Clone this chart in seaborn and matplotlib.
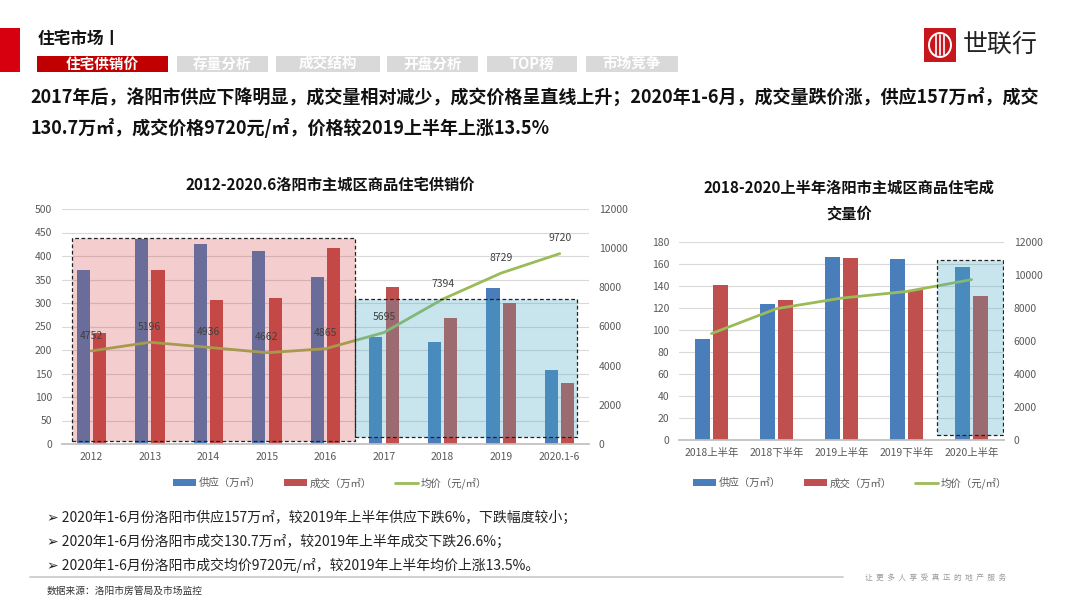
import matplotlib
matplotlib.use("Agg")
import matplotlib.pyplot as plt
from matplotlib.patches import Rectangle, Patch, Ellipse
from matplotlib.lines import Line2D
import numpy as np
import pandas as pd
import seaborn as sns

W, H = 1080, 608

# left chart: yearly supply / deal / price
years = ["2012", "2013", "2014", "2015", "2016", "2017", "2018", "2019", "2020.1-6"]
supply = [370, 436, 425, 411, 356, 228, 216, 332, 157]
deal = [236, 370, 306, 310, 417, 334, 268, 301, 130.7]
price = [4752, 5196, 4936, 4662, 4865, 5695, 7394, 8729, 9720]

# right chart: half-year figures
halves = ["2018上半年", "2018下半年", "2019上半年", "2019下半年", "2020上半年"]
half_supply = [91.5, 124, 166.5, 164.5, 157]
half_deal = [141, 127, 165, 136, 130.7]
half_price = [6450, 7960, 8600, 9000, 9720]

series = ["供应（万㎡）", "成交（万㎡）", "均价（元/㎡）"]
tabs = ["住宅供销价", "存量分析", "成交结构", "开盘分析", "TOP榜", "市场竞争"]
headline = [
    "2017年后，洛阳市供应下降明显，成交量相对减少，成交价格呈直线上升；2020年1-6月，成交量跌价涨，供应157万㎡，成交",
    "130.7万㎡，成交价格9720元/㎡，价格较2019上半年上涨13.5%",
]
bullets = [
    "2020年1-6月份洛阳市供应157万㎡，较2019年上半年供应下跌6%，下跌幅度较小；",
    "2020年1-6月份洛阳市成交130.7万㎡，较2019年上半年成交下跌26.6%；",
    "2020年1-6月份洛阳市成交均价9720元/㎡，较2019年上半年均价上涨13.5%。",
]

BLUE = "#4a7ebb"
RED = "#c0504d"
GREEN = "#9bbb59"
TICK = "#595959"

sns.set_theme(style="white")
plt.rcParams["font.family"] = ["Noto Sans CJK SC", "DejaVu Sans"]


def fx(px):
    return px / W


def fy(py):
    return 1 - py / H


def combo(ax, cats, sup, dl, pr, ymax, ystep, labels):
    df = pd.DataFrame({
        "cat": cats * 2,
        "value": list(sup) + list(dl),
        "series": [series[0]] * len(cats) + [series[1]] * len(cats),
    })
    sns.barplot(data=df, x="cat", y="value", hue="series", palette=[BLUE, RED],
                width=0.56, gap=0.2, saturation=1, linewidth=0, legend=False, ax=ax)
    ax.set_xlim(-0.5, len(cats) - 0.5)
    ax.set_ylim(0, ymax)
    ax.set_yticks(np.arange(0, ymax + 1, ystep))
    ax.yaxis.grid(True, color="#d9d9d9", linewidth=0.8)
    ax.set_axisbelow(True)
    ax.set_xlabel("")
    ax.set_ylabel("")
    for s in ["top", "left", "right"]:
        ax.spines[s].set_visible(False)
    ax.spines["bottom"].set_color("#bfbfbf")
    ax.tick_params(axis="both", length=0, labelsize=7.5, labelcolor=TICK)
    ax.tick_params(axis="x", pad=6)
    ax.tick_params(axis="y", pad=7)

    ax2 = ax.twinx()
    sns.lineplot(x=np.arange(len(cats)), y=pr, color=GREEN, linewidth=2, ax=ax2)
    ax2.set_ylim(0, 12000)
    ax2.set_yticks(np.arange(0, 12001, 2000))
    ax2.grid(False)
    for s in ax2.spines.values():
        s.set_visible(False)
    ax2.tick_params(axis="y", length=0, labelsize=7.5, labelcolor=TICK, pad=7)
    if labels:
        for i, p in enumerate(pr):
            ax2.annotate(str(p), (i, p), xytext=(0, 11), textcoords="offset points",
                         ha="center", va="center", fontsize=7.5, color="#404040", zorder=10)
    return ax2


def zone(ax_top, ax_data, x0, x1, y0, y1, rgba):
    ax_top.add_patch(Rectangle((x0, y0), x1 - x0, y1 - y0, transform=ax_data.transData,
                               facecolor=rgba, edgecolor="#222222", linewidth=0.9,
                               linestyle=(0, (3, 2)), zorder=5))


fig = plt.figure(figsize=(W / 100, H / 100), dpi=100)

# header
fig.patches.append(Rectangle((0, fy(72)), fx(20), 44 / H, transform=fig.transFigure,
                             facecolor="#d7000f", edgecolor="none"))
fig.text(fx(38), fy(39), "住宅市场丨", fontsize=12, fontweight="bold", va="center", color="#111111")
tab_x = [(37, 168), (177, 268), (276, 380), (387, 478), (487, 577), (586, 678)]
for i, (name, (a, b)) in enumerate(zip(tabs, tab_x)):
    fig.patches.append(Rectangle((fx(a), fy(72)), fx(b - a), 16 / H, transform=fig.transFigure,
                                 facecolor="#c00000" if i == 0 else "#d9d9d9", edgecolor="none"))
    fig.text(fx((a + b) / 2), fy(64), name, fontsize=10.5, fontweight="bold", color="white",
             ha="center", va="center")

# logo
fig.patches.append(Rectangle((fx(924), fy(62)), fx(32), 34 / H, transform=fig.transFigure,
                             facecolor="#c8161d", edgecolor="none"))
fig.patches.append(Ellipse((fx(940), fy(45)), fx(22), 24 / H, transform=fig.transFigure,
                           facecolor="none", edgecolor="white", linewidth=1.4))
for dx in (-4, 0, 4):
    fig.lines.append(Line2D([fx(940 + dx)] * 2, [fy(35), fy(55)], transform=fig.transFigure,
                            color="white", linewidth=1.2))
fig.text(fx(963), fy(45), "世联行", fontsize=18, color="#222222", va="center")

# headline
for j, line in enumerate(headline):
    fig.text(fx(30), fy(97 + 31 * j), line, fontsize=13, fontweight="bold", va="center", color="#111111")

# left chart
axL = fig.add_axes([fx(62), fy(444), fx(527), (444 - 209) / H])
axL2 = combo(axL, years, supply, deal, price, 500, 50, True)
zone(axL2, axL, -0.33, 4.5, 6.4, 438, (0.82, 0.2, 0.2, 0.24))
zone(axL2, axL, 4.5, 8.3, 15, 308, (0.29, 0.67, 0.78, 0.3))
fig.text(fx(330), fy(185), "2012-2020.6洛阳市主城区商品住宅供销价", fontsize=11,
         fontweight="bold", ha="center", va="center", color="#111111")

# right chart
axR = fig.add_axes([fx(679), fy(440), fx(325), (440 - 242) / H])
axR2 = combo(axR, halves, half_supply, half_deal, half_price, 180, 20, False)
zone(axR2, axR, 3.47, 4.485, 4.5, 164, (0.29, 0.67, 0.78, 0.3))
fig.text(fx(849), fy(188), "2018-2020上半年洛阳市主城区商品住宅成", fontsize=11,
         fontweight="bold", ha="center", va="center", color="#111111")
fig.text(fx(849), fy(214), "交量价", fontsize=11, fontweight="bold", ha="center", va="center",
         color="#111111")

handles = [Patch(facecolor=BLUE, edgecolor="none"), Patch(facecolor=RED, edgecolor="none"),
           Line2D([], [], color=GREEN, linewidth=2)]
for cx in (330, 850):
    fig.legend(handles, series, loc="center", bbox_to_anchor=(fx(cx), fy(483)), ncol=3,
               frameon=False, fontsize=7.5, handlelength=2.2, handleheight=0.6,
               columnspacing=2.2, handletextpad=0.3, labelcolor=TICK)

# bullets
for j, b in enumerate(bullets):
    fig.text(fx(47), fy(518 + 23.5 * j), "➢ " + b, fontsize=10, va="center", color="#222222")
fig.lines.append(Line2D([fx(30), fx(843)], [fy(577), fy(577)], transform=fig.transFigure,
                        color="#c8c8c8", linewidth=1.2))
fig.text(fx(47), fy(591), "数据来源：洛阳市房管局及市场监控", fontsize=7, va="center", color="#333333")
fig.text(fx(865), fy(578), "  ".join("让更多人享受真正的地产服务"), fontsize=5.5, va="center",
         color="#9a9a9a")

fig.savefig("out.png", dpi=100)
